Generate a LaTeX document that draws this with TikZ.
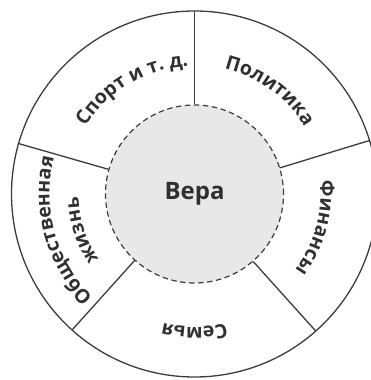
\documentclass[tikz,border=0pt]{standalone}
\usepackage{fontspec}
\setmainfont{Open Sans}
\usetikzlibrary{decorations.text}

\definecolor{linegray}{HTML}{3C3C3C}
\definecolor{textgray}{HTML}{303030}
\definecolor{innergray}{HTML}{E8E8E8}

\newcommand{\labelfont}{\bfseries\fontsize{19.5}{19.5}\selectfont}

\tikzset{
  sector line/.style={draw=linegray, line width=1.3pt},
  arc label/.style={decorate, decoration={text along path, text align=center,
      text color=textgray, text={|\labelfont|#1}}},
}

\begin{document}
\begin{tikzpicture}[x=1pt, y=1pt]
  \useasboundingbox (0,0) rectangle (371,380);
  \clip (0,0) rectangle (371,380);
  \coordinate (O) at (194.5,186);

  % Circles
  \draw[sector line] (O) circle[radius=183];
  \node[circle, minimum size=178pt, inner sep=0pt, fill=innergray,
        draw=linegray, dash pattern=on 5.5pt off 3.5pt, line width=1.2pt, text=textgray,
        font=\bfseries\fontsize{24}{24}\selectfont] (vera) at (O) {Вера};

  % Dividers
  \foreach \a in {90,17,311.5,228,164}
    \draw[sector line] (vera.\a) -- ([shift={(\a:183)}]O);

  % Labels
  \begin{scope}[shift={(O)}]
    \path[arc label=Политика] (94:129) arc[start angle=94, end angle=14, radius=129];
    \path[arc label=Спорт и т. д.] (160.6:128) arc[start angle=160.6, end angle=80.6, radius=128];
    \path[arc label=Финансы] (24.4:126) arc[start angle=24.4, end angle=-55.6, radius=126];
    \path[arc label=Семья] (-50:133) arc[start angle=-50, end angle=-130, radius=133];
    \path[arc label=Общественная] (240.5:145) arc[start angle=240.5, end angle=150.5, radius=145];
    \path[arc label=жизнь] (238:116) arc[start angle=238, end angle=158, radius=116];
  \end{scope}
\end{tikzpicture}
\end{document}
